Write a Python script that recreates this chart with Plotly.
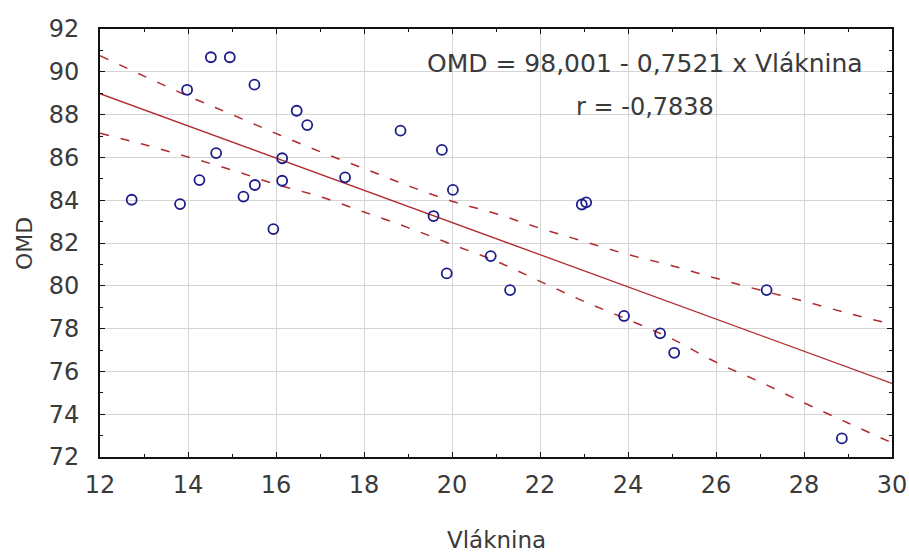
import plotly.graph_objects as go

# Data points (Vláknina, OMD)
vlaknina = [12.72, 13.82, 13.98, 14.26, 14.52, 14.95, 14.64, 15.26, 15.52, 15.51,
            15.94, 16.14, 16.14, 16.47, 16.71, 18.83, 19.77, 17.57, 20.02, 19.58,
            19.88, 20.88, 22.95, 23.05, 21.32, 23.91, 24.73, 25.05, 27.15, 28.86]
omd = [84.02, 83.82, 89.16, 84.94, 90.68, 90.68, 86.20, 84.17, 84.71, 89.40,
       82.65, 85.96, 84.91, 88.18, 87.51, 87.25, 86.35, 85.07, 84.48, 83.26,
       80.58, 81.39, 83.80, 83.90, 79.80, 78.59, 77.78, 76.87, 79.80, 72.87]

# Regression line (OMD = 98,001 - 0,7521 x Vláknina)
fit_x = [12, 30]
fit_y = [88.976, 75.438]

# Confidence band values
band_x = [12, 13, 14, 15, 16, 17, 18, 19, 20, 21, 22, 23, 24, 25, 26, 27, 28, 29, 30]
band_upper = [90.75, 89.80, 88.87, 88.00, 87.12, 86.27, 85.48, 84.68, 83.95, 83.37,
              82.69, 82.07, 81.46, 80.94, 80.35, 79.80, 79.28, 78.72, 78.20]
band_lower = [87.13, 86.60, 86.02, 85.41, 84.74, 84.17, 83.45, 82.72, 81.93, 81.15,
              80.21, 79.27, 78.42, 77.52, 76.43, 75.51, 74.53, 73.59, 72.66]

x_ticks = [12, 14, 16, 18, 20, 22, 24, 26, 28, 30]
y_ticks = [72, 74, 76, 78, 80, 82, 84, 86, 88, 90, 92]

FONT = "DejaVu Sans"
TXT = "#3a3a3a"
RED = "#b02a30"

fig = go.Figure()

for yy in (band_upper, band_lower):
    fig.add_trace(go.Scatter(x=band_x, y=yy, mode="lines",
                             line=dict(color=RED, width=1.5, dash="9px,12px", shape="spline"),
                             hoverinfo="skip", showlegend=False))

fig.add_trace(go.Scatter(x=fit_x, y=fit_y, mode="lines",
                         line=dict(color=RED, width=1.3),
                         showlegend=False))

fig.add_trace(go.Scatter(x=vlaknina, y=omd, mode="markers",
                         marker=dict(symbol="circle-open", size=10, color="#1c1c8a",
                                     line=dict(width=1.8, color="#1c1c8a")),
                         showlegend=False))

axis_common = dict(
    showline=True, linecolor="#111111", linewidth=2, mirror="ticks",
    ticks="inside", ticklen=5, tickwidth=1, tickcolor="#111111",
    showgrid=True, gridcolor="#d4d4d4", gridwidth=1, zeroline=False,
    automargin=False,
    tickfont=dict(family=FONT, size=24, color=TXT),
)

fig.update_xaxes(range=[12, 30], tickvals=x_ticks, ticklabelstandoff=5,
                 minor=dict(ticks="inside", ticklen=3, dtick=1, tick0=12, tickcolor="#111111", showgrid=False),
                 **axis_common)
fig.update_yaxes(range=[72, 92], tickvals=y_ticks, ticklabelstandoff=14,
                 minor=dict(ticks="inside", ticklen=3, dtick=1, tick0=72, tickcolor="#111111", showgrid=False),
                 **axis_common)

# white box behind the equation text (covers the grid)
fig.add_shape(type="rect", xref="paper", yref="paper", x0=0.395, x1=1.0, y0=0.734, y1=1.0,
              fillcolor="white", line=dict(width=0), layer="between")

fig.add_annotation(text="OMD = 98,001 - 0,7521 x Vláknina", xref="paper", yref="paper",
                   x=0.688, y=0.92, xanchor="center", yanchor="middle", showarrow=False,
                   font=dict(family=FONT, size=25, color=TXT))
fig.add_annotation(text="r = -0,7838", xref="paper", yref="paper",
                   x=0.688, y=0.817, xanchor="center", yanchor="middle", showarrow=False,
                   font=dict(family=FONT, size=24, color=TXT))

fig.add_annotation(text="Vláknina", xref="paper", yref="paper", x=0.5, y=-0.194,
                   xanchor="center", yanchor="middle", showarrow=False,
                   font=dict(family=FONT, size=23, color=TXT))
fig.add_annotation(text="OMD", xref="paper", yref="paper", x=-0.096, y=0.5, textangle=-90,
                   xanchor="center", yanchor="middle", showarrow=False,
                   font=dict(family=FONT, size=22, color=TXT))

fig.update_layout(width=909, height=554, margin=dict(l=100, r=17, t=29, b=97),
                  paper_bgcolor="white", plot_bgcolor="white", showlegend=False)

fig.write_html("out.html")
